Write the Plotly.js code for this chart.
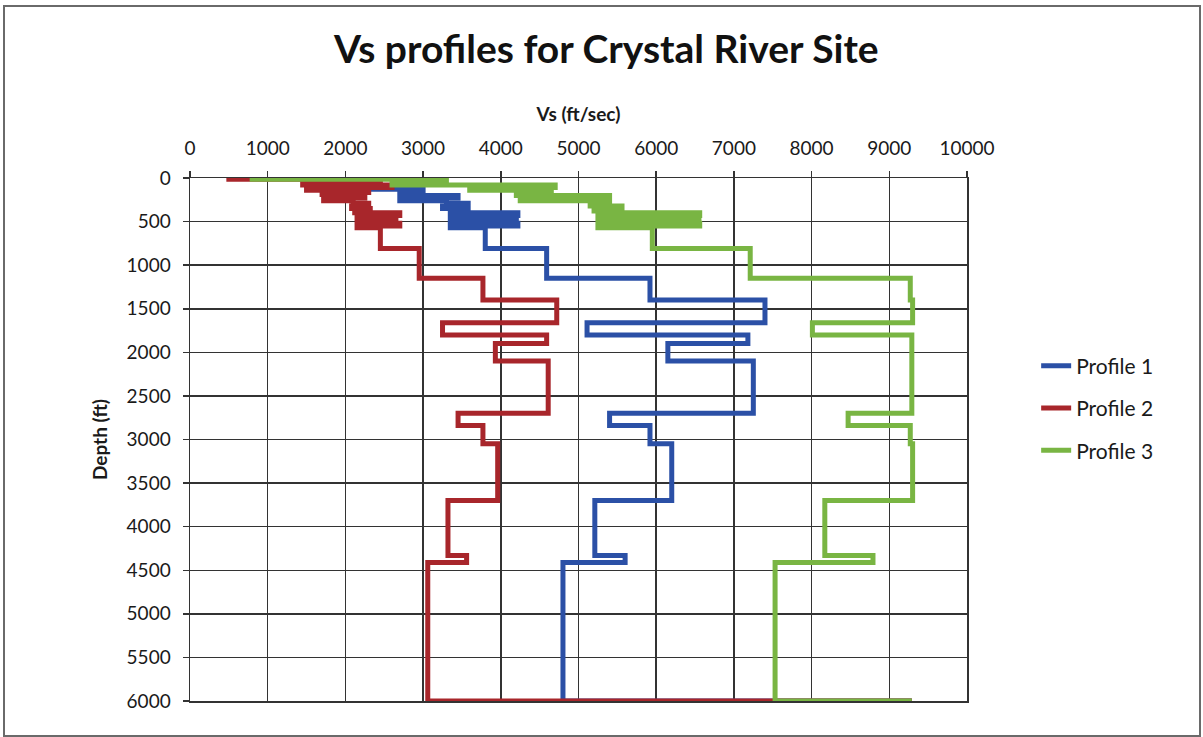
<!DOCTYPE html>
<html>
<head>
<meta charset="utf-8">
<script src="https://cdn.plot.ly/plotly-3.0.1.min.js"></script>
<style>
  html, body { margin: 0; padding: 0; background: #ffffff; }
  #chart { width: 1203px; height: 737px; }
  #frame { position: absolute; left: 3px; top: 5px; width: 1194px; height: 728px;
           border: 2px solid #6a6a6a; pointer-events: none; }
</style>
</head>
<body>
<div id="chart"></div>
<div id="frame"></div>
<script>
// Layer tops (ft) and shear-wave velocities (ft/sec)
const profile1Depth = [0, 90, 130, 165, 200, 230, 260, 290, 320, 350, 380, 400, 430, 460, 490, 520, 550, 570, 810, 1150, 1400, 1660, 1800, 1900, 2100, 2700, 2840, 3050, 3700, 4330, 4410];
const profile1Vs    = [2800, 2300, 3000, 2700, 3450, 2700, 3300, 3580, 3250, 3580, 3350, 4220, 3350, 4200, 3350, 4220, 3350, 3800, 4590, 5920, 7400, 5110, 7180, 6150, 7250, 5400, 5920, 6200, 5210, 5600, 4800];

const profile2Depth = [0, 15, 60, 80, 110, 140, 165, 190, 230, 260, 290, 320, 350, 380, 400, 430, 460, 490, 520, 550, 570, 810, 1150, 1400, 1660, 1800, 1900, 2100, 2700, 2840, 3050, 3700, 4330, 4410];
const profile2Vs    = [500, 2450, 1450, 2600, 1500, 2300, 1700, 2250, 1720, 2100, 2300, 2080, 2320, 2120, 2700, 2150, 2650, 2150, 2700, 2150, 2450, 2950, 3770, 4720, 3250, 4590, 3930, 4610, 3450, 3770, 3960, 3320, 3560, 3060];

const profile3Depth = [0, 15, 45, 80, 110, 140, 165, 200, 230, 260, 290, 320, 350, 380, 400, 430, 460, 490, 520, 550, 570, 810, 1150, 1400, 1660, 1800, 2700, 2840, 3050, 3700, 4330, 4410];
const profile3Vs    = [800, 3300, 2600, 4700, 3600, 4650, 4200, 5400, 4250, 5400, 5150, 5560, 5200, 5560, 6560, 5250, 6550, 5250, 6560, 5250, 5950, 7210, 9270, 9300, 8010, 9290, 8470, 9270, 9300, 8170, 8790, 7530];

const bottomDepth = 6000;      // base of profiles (ft)
const halfSpaceVs = 9290;      // velocity reached at the base (ft/sec)

const seriesNames  = ["Profile 1", "Profile 2", "Profile 3"];
const seriesColors = ["#2b50a6", "#a8262b", "#79b543"];

const xTicks = [0, 1000, 2000, 3000, 4000, 5000, 6000, 7000, 8000, 9000, 10000];
const yTicks = [0, 500, 1000, 1500, 2000, 2500, 3000, 3500, 4000, 4500, 5000, 5500, 6000];

function stepLine(depths, vs) {
  const x = [], y = [];
  for (let i = 0; i < depths.length; i++) {
    const top = depths[i];
    const bot = i + 1 < depths.length ? depths[i + 1] : bottomDepth;
    x.push(vs[i], vs[i]);
    y.push(top, bot);
  }
  x.push(halfSpaceVs);
  y.push(bottomDepth);
  return { x, y };
}

const profiles = [
  stepLine(profile1Depth, profile1Vs),
  stepLine(profile2Depth, profile2Vs),
  stepLine(profile3Depth, profile3Vs)
];

const traces = profiles.map((p, i) => ({
  type: "scatter",
  mode: "lines",
  x: p.x,
  y: p.y,
  name: seriesNames[i],
  legendgroup: "g" + i,
  line: { color: seriesColors[i], width: 5, shape: "linear" },
  hoverinfo: "x+y+name"
}));

const font = "Lato, 'Open Sans', sans-serif";

const layout = {
  width: 1203,
  height: 737,
  paper_bgcolor: "#ffffff",
  plot_bgcolor: "#ffffff",
  margin: { l: 190, r: 236, t: 178, b: 36 },
  font: { family: font, color: "#1a1a1a", size: 19 },
  title: {
    text: "Vs profiles for Crystal River Site",
    font: { family: font, size: 39, weight: "bold", color: "#111111" },
    x: 0.504, xref: "container", xanchor: "center",
    y: 0.933, yref: "container", yanchor: "middle"
  },
  xaxis: {
    side: "top",
    range: [0, 10000],
    tickvals: xTicks,
    ticktext: xTicks.map(String),
    showgrid: true,
    gridcolor: "#333333",
    gridwidth: 1.5,
    zeroline: false,
    showline: true,
    linecolor: "#333333",
    linewidth: 1.5,
    mirror: true,
    ticks: "outside",
    ticklen: 6,
    tickcolor: "#333333",
    tickwidth: 1.5,
    ticklabelstandoff: 8,
    tickfont: { family: font, size: 19, color: "#1a1a1a" },
    title: { text: "Vs (ft/sec)", font: { family: font, size: 19, weight: "bold", color: "#1a1a1a" }, standoff: 9 },
    fixedrange: true
  },
  yaxis: {
    range: [6000, 0],
    tickvals: yTicks,
    ticktext: yTicks.map(String),
    showgrid: true,
    gridcolor: "#333333",
    gridwidth: 1.5,
    zeroline: false,
    showline: true,
    linecolor: "#333333",
    linewidth: 1.5,
    mirror: true,
    ticks: "outside",
    ticklen: 6,
    tickcolor: "#333333",
    tickwidth: 1.5,
    ticklabelstandoff: 8,
    tickfont: { family: font, size: 19, color: "#1a1a1a" },
    title: { text: "Depth (ft)", font: { family: font, size: 19, weight: "bold", color: "#1a1a1a" }, standoff: 14 },
    fixedrange: true
  },
  legend: {
    x: 1.089, xanchor: "left",
    y: 0.56, yanchor: "middle",
    bgcolor: "rgba(0,0,0,0)",
    font: { family: font, size: 21, color: "#1a1a1a" },
    tracegroupgap: 12,
    itemwidth: 30
  },
  showlegend: true
};

Plotly.newPlot("chart", traces, layout, { displayModeBar: false, staticPlot: true });
</script>
</body>
</html>
